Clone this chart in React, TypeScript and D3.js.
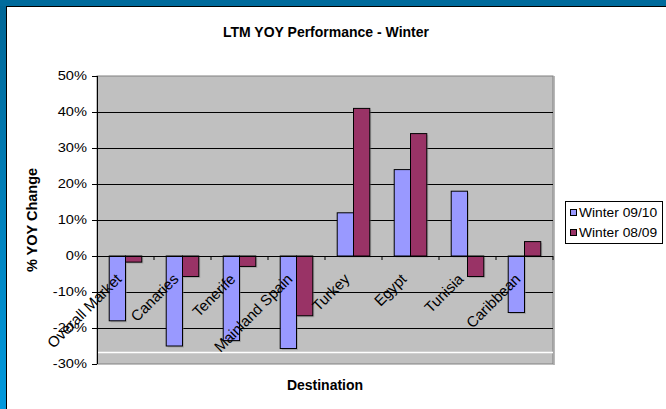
import React from "react";
import * as d3 from "d3";

const categories = ["Overall Market", "Canaries", "Tenerife", "Mainland Spain", "Turkey", "Egypt", "Tunisia", "Caribbean"];
const winter0910 = [-18, -25, -23.5, -25.7, 12, 24, 18, -15.7];
const winter0809 = [-1.7, -5.7, -2.9, -16.6, 41, 34, -5.7, 4];
const seriesNames = ["Winter 09/10", "Winter 08/09"];
const seriesColors = ["#9999ff", "#993366"];
const yTicks = [50, 40, 30, 20, 10, 0, -10, -20, -30];

const W = 666, H = 409;
const plot = { x0: 97, x1: 553, y0: 76, y1: 364 };
const font = "Liberation Sans, Arial, sans-serif";

export default function App() {
  const x = d3.scaleBand<string>().domain(categories).range([plot.x0, plot.x1]);
  const y = d3.scaleLinear().domain([-30, 50]).range([plot.y1, plot.y0]);
  const bw = x.bandwidth() / 3.5;
  const series = [winter0910, winter0809];
  const grad = "borderGrad";
  const legendTop = 201;
  return (
    <div style={{ position: "absolute", left: 0, top: 0 }}>
      <svg width={W} height={H} style={{ display: "block" }}>
        <defs>
          <linearGradient id={grad} x1="0" y1="0" x2="0" y2="1">
            <stop offset="0" stopColor="#006696" />
            <stop offset="1" stopColor="#0099dd" />
          </linearGradient>
        </defs>
        <rect x={0} y={0} width={W} height={H} fill="#fff" />
        <rect x={0} y={0} width={6} height={H} fill={`url(#${grad})`} />
        <rect x={0} y={0} width={W} height={6} fill="#006b9c" />
        <line x1={6.5} y1={6} x2={6.5} y2={H} stroke="#000" strokeWidth={1} />
        <line x1={6} y1={6.5} x2={W} y2={6.5} stroke="#000" strokeWidth={1} />

        <text x={326} y={37} textAnchor="middle" fontFamily={font} fontWeight="bold" fontSize={14}>
          LTM YOY Performance - Winter
        </text>

        {/* plot area */}
        <rect x={plot.x0} y={plot.y0} width={plot.x1 - plot.x0} height={plot.y1 - plot.y0} fill="#c0c0c0" stroke="#808080" strokeWidth={1} />
        <line x1={plot.x1 + 1} y1={plot.y0} x2={plot.x1 + 1} y2={plot.y1 + 1} stroke="#a0a0a0" strokeWidth={1.5} />
        {yTicks.filter((t) => t !== 50 && t !== -30 && t !== 0).map((t) => (
          <line key={t} x1={plot.x0} x2={plot.x1} y1={Math.round(y(t)) + 0.5} y2={Math.round(y(t)) + 0.5} stroke="#000" strokeWidth={1} />
        ))}
        <line x1={plot.x0} x2={plot.x1} y1={352.5} y2={352.5} stroke="#fff" strokeWidth={1.5} />

        {/* bars */}
        {categories.map((c, i) =>
          series.map((s, j) => {
            const v = s[i];
            const bx = (x(c) as number) + 0.75 * bw + j * bw;
            const top = y(Math.max(0, v));
            const h = Math.abs(y(v) - y(0));
            return (
              <g key={c + j}>
                <rect x={bx + 1.5} y={top + 1.5} width={bw} height={h} fill="#808080" opacity={0.4} />
                <rect x={bx} y={top} width={bw} height={h} fill={seriesColors[j]} stroke="#000" strokeWidth={1} />
              </g>
            );
          })
        )}

        {/* x axis at 0 */}
        <line x1={plot.x0} x2={plot.x1} y1={Math.round(y(0)) + 0.5} y2={Math.round(y(0)) + 0.5} stroke="#000" strokeWidth={1} />
        {categories.map((c, i) => (
          <line key={"xt" + i} x1={(x(c) as number) + x.bandwidth()} x2={(x(c) as number) + x.bandwidth()} y1={y(0)} y2={y(0) + 4} stroke="#000" />
        ))}
        {/* y axis */}
        <line x1={plot.x0 + 0.5} x2={plot.x0 + 0.5} y1={plot.y0} y2={plot.y1} stroke="#000" strokeWidth={1} />
        {yTicks.map((t) => (
          <g key={"yt" + t}>
            <line x1={plot.x0 - 5} x2={plot.x0} y1={Math.round(y(t)) + 0.5} y2={Math.round(y(t)) + 0.5} stroke="#000" />
            <text transform={`translate(${plot.x0 - 10},${y(t) + 4}) scale(1.22,1)`} textAnchor="end" fontFamily={font} fontSize={12}>
              {t + "%"}
            </text>
          </g>
        ))}

        {/* category labels */}
        {categories.map((c) => {
          const cx = (x(c) as number) + x.bandwidth() / 2;
          return (
            <text key={"cl" + c} transform={`translate(${cx - 3},${y(0) + 24}) rotate(-45)`} textAnchor="end" fontFamily={font} fontSize={15}>
              {c}
            </text>
          );
        })}

        <text transform={`translate(37,${(plot.y0 + plot.y1) / 2}) rotate(-90)`} textAnchor="middle" fontFamily={font} fontWeight="bold" fontSize={14.5}>
          % YOY Change
        </text>
        <text x={325} y={390} textAnchor="middle" fontFamily={font} fontWeight="bold" fontSize={14}>
          Destination
        </text>

        {/* legend */}
        <rect x={565.5} y={legendTop + 0.5} width={97} height={42} fill="#fff" stroke="#000" strokeWidth={1} />
        {seriesNames.map((n, j) => (
          <g key={n}>
            <rect x={570.5} y={legendTop + 8.5 + j * 20} width={6} height={6} fill={seriesColors[j]} stroke="#000" />
            <text transform={`translate(579,${legendTop + 16 + j * 20}) scale(1.15,1)`} fontFamily={font} fontSize={12}>
              {n}
            </text>
          </g>
        ))}
      </svg>
    </div>
  );
}
